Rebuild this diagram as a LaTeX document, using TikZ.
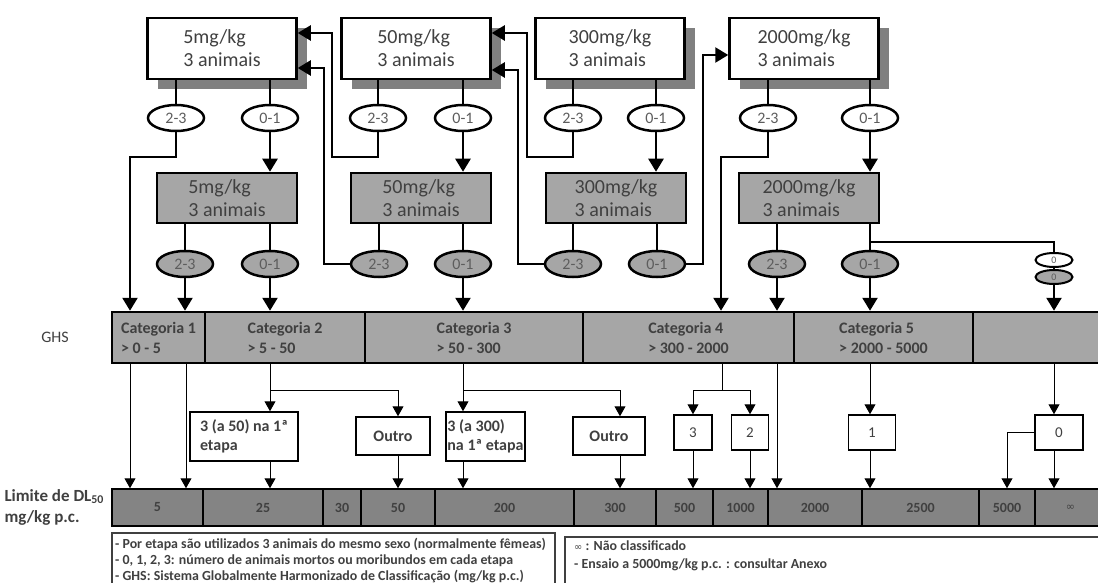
\documentclass[tikz,border=0pt]{standalone}
\usepackage{fontspec}
\setmainfont{Carlito}
\newfontfamily\symfont{DejaVu Sans}
\usetikzlibrary{positioning,arrows.meta,shapes.geometric,shadows}
\definecolor{boxgray}{HTML}{A6A6A6}
\definecolor{bargray}{HTML}{848484}
\definecolor{shadegray}{HTML}{808080}
\definecolor{txtgray}{HTML}{404040}
\begin{document}
\begin{tikzpicture}[x=1pt, y=-1pt,
    dose/.style={draw, line width=2.5pt, fill=white, minimum width=149pt, minimum height=61pt,
      inner sep=0pt, align=left, text=txtgray, font=\fontsize{20}{23}\selectfont,
      drop shadow={shadow xshift=10pt, shadow yshift=-10pt, opacity=1, fill=shadegray}},
    dosegray/.style={draw, line width=2.5pt, fill=boxgray, minimum width=140pt, minimum height=50pt,
      inner sep=0pt, align=left, text=txtgray, font=\fontsize{20}{23}\selectfont},
    res/.style={ellipse, draw, line width=2.5pt, fill=white, minimum width=56pt, minimum height=26pt,
      inner sep=0pt, text=txtgray!85, font=\fontsize{16}{16}\selectfont},
    resgray/.style={res, fill=boxgray},
    zero/.style={res, line width=2pt, minimum width=37pt, minimum height=14pt, inner sep=-2pt,
      font=\fontsize{10}{10}\selectfont},
    cat/.style={draw, line width=2.5pt, fill=boxgray, minimum height=51pt, inner sep=0pt,
      align=left, text=txtgray, font=\bfseries\fontsize{16}{20}\selectfont},
    outcome/.style={draw, line width=1.5pt, fill=white, inner sep=0pt, align=left, text=txtgray,
      font=\bfseries\fontsize{16}{19}\selectfont},
    num/.style={outcome, minimum height=35pt, font=\fontsize{15}{15}\selectfont},
    dl/.style={draw, line width=1.5pt, fill=bargray, minimum height=37pt, inner sep=0pt,
      text=txtgray, font=\bfseries\fontsize{14}{14}\selectfont},
    link/.style={line width=2.5pt},
    arr/.style={line width=2.5pt, -{Triangle[width=15pt,length=13pt]}},
    thinarr/.style={line width=1pt, -{Triangle[width=11pt,length=10pt]}},
    note/.style={anchor=north west, align=left, inner sep=0pt, text=txtgray,
      font=\bfseries\fontsize{13.9}{16}\selectfont}]
  \useasboundingbox (0,0) rectangle (1098,583);
  \clip (0,0) rectangle (1098,583);

  % dose steps
  \foreach \i/\x/\d in {1/222/5, 2/416/50, 3/610/300, 4/804/2000}
    \node[dose] (t\i) at (\x,48.5) {\d mg/kg\\3 animais};
  \foreach \i/\x/\d in {1/227/5, 2/421/50, 3/616/300, 4/809/2000}
    \node[dosegray] (g\i) at (\x,198) {\d mg/kg\\3 animais};
  \foreach \i/\a/\b in {1/176/270, 2/378/463, 3/573/656, 4/768/870} {
    \node[res] (ta\i) at (\a,118) {2-3};
    \node[res] (tb\i) at (\b,118) {0-1};
  }
  \foreach \i/\a/\b in {1/185/270, 2/379/463, 3/573/657, 4/777/870} {
    \node[resgray] (ga\i) at (\a,264) {2-3};
    \node[resgray] (gb\i) at (\b,264) {0-1};
  }
  \node[zero] (z1) at (1054,260) {0};
  \node[zero, fill=boxgray] (z2) at (1054,277) {0};

  % GHS categories
  \node[font=\fontsize{16}{16}\selectfont, text=txtgray] (ghs) at (55,337) {GHS};
  \foreach \i/\l/\r/\t in {1/112/205/{Categoria 1\\> 0 - 5}, 2/205/365/{Categoria 2\\> 5 - 50},
      3/365/583/{Categoria 3\\> 50 - 300}, 4/583/794/{Categoria 4\\> 300 - 2000},
      5/794/973/{Categoria 5\\> 2000 - 5000}, 6/973/1106/{}}
    \node[cat, minimum width={(\r-\l)*1pt}] (c\i) at ({(\l+\r)/2},337.5) {\t};

  % outcomes
  \node[outcome, minimum width=108pt, minimum height=49pt] (o1) at (244,436.5) {3 (a 50) na 1ª\\etapa};
  \node[outcome, minimum width=74pt, minimum height=38pt] (o2) at (393,436) {Outro};
  \node[outcome, minimum width=79pt, minimum height=49pt] (o3) at (485.5,436.5) {3 (a 300)\\na 1ª etapa};
  \node[outcome, minimum width=72pt, minimum height=38pt] (o4) at (609,436) {Outro};
  \node[num, minimum width=38pt] (o5) at (693,432.5) {3};
  \node[num, minimum width=37pt] (o6) at (750,432.5) {2};
  \node[num, minimum width=47pt] (o7) at (872,432.5) {1};
  \node[num, minimum width=48pt] (o8) at (1059,432.5) {0};

  % LD50 limits
  \node[anchor=west, align=left, text=txtgray, font=\bfseries\fontsize{17}{21}\selectfont] (lim)
    at (1,507) {Limite de DL\textsubscript{50}\\mg/kg p.c.};
  \foreach \i/\l/\r/\t in {1/112/203/5, 2/203/323/25, 3/323/361/30, 4/361/435/50, 5/435/574/200,
      6/574/656/300, 7/656/713/500, 8/713/768/1000, 9/768/862/2000, 10/862/979/2500,
      11/979/1035/5000, 12/1035/1106/{\mdseries\symfont\fontsize{11}{11}\selectfont ∞}}
    \node[dl, minimum width={(\r-\l)*1pt}] (d\i) at ({(\l+\r)/2},507.5) {\t};

  % notes
  \draw[line width=1.5pt, txtgray] (112,533) rectangle (555,600);
  \draw[line width=1.5pt, txtgray] (565,537) rectangle (1110,600);
  \node[note] (n1) at (115,538) {- Por etapa são utilizados 3 animais do mesmo sexo (normalmente fêmeas)\\
    - 0, 1, 2, 3: número de animais mortos ou moribundos em cada etapa\\
    - GHS: Sistema Globalmente Harmonizado de Classificação (mg/kg p.c.)};
  \node[note, font=\bfseries\fontsize{13.9}{18}\selectfont] (n2) at (574,541)
    {{\mdseries\symfont\fontsize{10}{10}\selectfont ∞} : Não classificado\\
    - Ensaio a 5000mg/kg p.c. : consultar Anexo};

  % connectors of the dose steps
  \foreach \i in {1,...,4} {
    \draw[link] (t\i.south -| ta\i) -- (ta\i.north);
    \draw[link] (t\i.south -| tb\i) -- (tb\i.north);
    \draw[arr] (tb\i.south) -- (g\i.north -| tb\i);
    \draw[link] (g\i.south -| ga\i) -- (ga\i.north);
    \draw[link] (g\i.south -| gb\i) -- (gb\i.north);
  }
  \draw[arr] (ta1.south) |- (130,157) -- (c1.north -| 130,0);
  \draw[arr] (ta4.south) |- (721,157) -- (c4.north -| 721,0);
  \draw[arr] (ta2.south) |- (332,157) |- (t1.east |- 0,33);
  \draw[arr] (ga2.west) -| (324,68) -- (t1.east |- 0,68);
  \draw[arr] (ta3.south) |- (527,157) |- (t2.east |- 0,33);
  \draw[arr] (ga3.west) -| (518,70) -- (t2.east |- 0,70);
  \draw[arr] (gb3.east) -| (703,55) -- (t4.west |- 0,55);
  \draw[arr] (ga1.south) -- (c1.north -| ga1);
  \draw[arr] (gb1.south) -- (c2.north -| gb1);
  \draw[arr] (gb2.south) -- (c3.north -| gb2);
  \draw[arr] (ga4.south) -- (c4.north -| ga4);
  \draw[arr] (gb4.south) -- (c5.north -| gb4);
  \draw[link] (gb4.north |- 0,242) -| (z1.north);
  \draw[link] (z1.south) -- (z2.north);
  \draw[arr] (z2.south) -- (c6.north -| z2);

  % connectors down to the limits
  \draw[thinarr] (c1.south -| 130,0) -- (d1.north -| 130,0);
  \draw[thinarr] (c1.south -| 186,0) -- (d1.north -| 186,0);
  \draw[thinarr] (c2.south -| 270,0) -- (o1.north -| 270,0);
  \draw[thinarr] (c2.south -| 270,0) |- (398,390) -- (o2.north -| 398,0);
  \draw[thinarr] (o1.south -| 270,0) -- (d2.north -| 270,0);
  \draw[thinarr] (o2.south -| 398,0) -- (d4.north -| 398,0);
  \draw[thinarr] (c3.south -| 463,0) -- (o3.north -| 463,0);
  \draw[thinarr] (c3.south -| 463,0) |- (620,390) -- (o4.north -| 620,0);
  \draw[thinarr] (o3.south -| 463,0) -- (d5.north -| 463,0);
  \draw[thinarr] (o4.south -| 620,0) -- (d6.north -| 620,0);
  \draw[thinarr] (c4.south -| 722,0) |- (o5.north |- 0,390) -- (o5.north);
  \draw[thinarr] (c4.south -| 722,0) |- (o6.north |- 0,390) -- (o6.north);
  \draw[thinarr] (o5.south) -- (d7.north -| o5);
  \draw[thinarr] (o6.south) -- (d8.north -| o6);
  \draw[thinarr] (c4.south -| 777,0) -- (d9.north -| 777,0);
  \draw[thinarr] (c5.south -| 870,0) -- (o7.north -| 870,0);
  \draw[thinarr] (o7.south -| 870,0) -- (d10.north -| 870,0);
  \draw[thinarr] (c6.south -| 1054,0) -- (o8.north -| 1054,0);
  \draw[thinarr] (o8.south -| 1054,0) -- (d12.north -| 1054,0);
  \draw[thinarr] (o8.west) -| (d11.north -| 1007,0);
\end{tikzpicture}
\end{document}
